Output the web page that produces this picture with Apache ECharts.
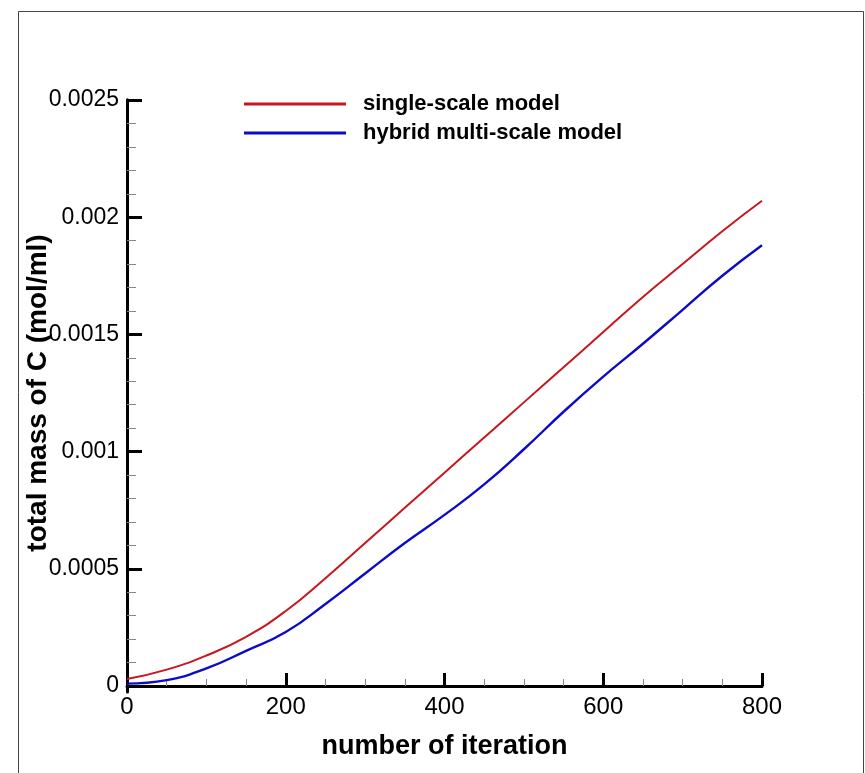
<!DOCTYPE html>
<html>
<head>
<meta charset="utf-8">
<script src="https://cdn.jsdelivr.net/npm/echarts@6/dist/echarts.min.js"></script>
<style>
  html, body { margin: 0; padding: 0; background: #fff; }
  #chart { width: 865px; height: 773px; }
</style>
</head>
<body>
<div id="chart"></div>
<script>
// iteration steps (x)
var iterations = [0, 50, 100, 150, 200, 250, 300, 350, 400, 450, 500, 550, 600, 650, 700, 750, 800];
// total mass of C
var singleScale = [0.00003, 0.00007, 0.00013, 0.00021, 0.00032, 0.00046, 0.00061, 0.00076, 0.00091,
                   0.00106, 0.00121, 0.00136, 0.00151, 0.00166, 0.00180, 0.00194, 0.00207];
var hybridScale = [0.00001, 0.000025, 0.000075, 0.00015, 0.00023, 0.00035, 0.00048, 0.00061, 0.00073,
                   0.00086, 0.00101, 0.00117, 0.00132, 0.00146, 0.001605, 0.00175, 0.00188];
var seriesNames = ['single-scale model', 'hybrid multi-scale model'];
var yTicks = [0, 0.0005, 0.001, 0.0015, 0.002, 0.0025];
var yTickLabels = ['0', '0.0005', '0.001', '0.0015', '0.002', '0.0025'];
var xTickLabels = ['0', '200', '400', '600', '800'];

var FONT = "'Liberation Sans', Arial, sans-serif";

function toPairs(xs, ys) {
    var out = [];
    for (var i = 0; i < xs.length; i++) {
        out.push([xs[i], ys[i]]);
    }
    return out;
}

var chart = echarts.init(document.getElementById('chart'));

var option = {
    animation: false,
    backgroundColor: '#fff',
    graphic: [{
        type: 'rect',
        shape: { x: 18.5, y: 11.5, width: 845, height: 800 },
        style: { fill: 'none', stroke: '#444', lineWidth: 1 },
        silent: true
    }],
    legend: {
        orient: 'vertical',
        left: 244,
        top: 93,
        padding: 0,
        itemWidth: 102,
        itemHeight: 3,
        itemGap: 7,
        icon: 'rect',
        data: seriesNames,
        textStyle: { fontFamily: FONT, fontSize: 22, fontWeight: 'bold', color: '#000', padding: [0, 0, 0, 12] }
    },
    grid: [
        // grid for labelled y axis: 0 .. 0.0025
        { left: 127, top: 100, width: 635, height: 586 },
        // grid for data and x axis (axis sits a bit below zero)
        { left: 127, top: 100, width: 635, height: 592 }
    ],
    xAxis: [
        { gridIndex: 0, type: 'value', min: 0, max: 800, show: false },
        {
            gridIndex: 1, type: 'value', min: 0, max: 800, interval: 200,
            name: 'number of iteration',
            nameLocation: 'middle',
            nameGap: 41,
            nameMoveOverlap: false,
            nameTextStyle: { fontFamily: FONT, fontSize: 27, fontWeight: 'bold', color: '#000' },
            axisLine: { show: true, lineStyle: { color: '#000', width: 3 } },
            axisTick: { show: true, inside: true, length: 13, lineStyle: { color: '#000', width: 3 } },
            minorTick: { show: true, splitNumber: 4, length: 7, lineStyle: { color: '#888', width: 1 } },
            splitLine: { show: false },
            axisLabel: {
                margin: 3, fontFamily: FONT, fontSize: 24, color: '#000',
                formatter: function (v) { return xTickLabels[Math.round(v / 200)]; }
            }
        }
    ],
    yAxis: [
        {
            gridIndex: 0, type: 'value', min: 0, max: 0.0025, interval: 0.0005,
            name: 'total mass of C (mol/ml)',
            nameLocation: 'middle',
            nameRotate: 90,
            nameGap: 75,
            nameMoveOverlap: false,
            nameTextStyle: { fontFamily: FONT, fontSize: 28, fontWeight: 'bold', color: '#000' },
            axisLine: { show: true, lineStyle: { color: '#000', width: 3 } },
            axisTick: { show: true, inside: true, length: 15, lineStyle: { color: '#000', width: 3 } },
            minorTick: { show: true, splitNumber: 5, length: 9, lineStyle: { color: '#888', width: 1 } },
            splitLine: { show: false },
            axisLabel: {
                margin: 8, fontFamily: FONT, fontSize: 23, color: '#000',
                formatter: function (v) {
                    for (var i = 0; i < yTicks.length; i++) {
                        if (Math.abs(yTicks[i] - v) < 1e-9) return yTickLabels[i];
                    }
                    return '';
                }
            }
        },
        {
            gridIndex: 1, type: 'value', min: -0.0000256, max: 0.0025,
            axisLine: { show: true, lineStyle: { color: '#000', width: 3 } },
            axisTick: { show: false },
            axisLabel: { show: false },
            splitLine: { show: false }
        }
    ],
    series: [
        {
            name: seriesNames[0],
            type: 'line',
            xAxisIndex: 1,
            yAxisIndex: 1,
            smooth: 0.5,
            symbol: 'none',
            color: '#c8161e',
            lineStyle: { color: '#c8161e', width: 2 },
            data: toPairs(iterations, singleScale)
        },
        {
            name: seriesNames[1],
            type: 'line',
            xAxisIndex: 1,
            yAxisIndex: 1,
            smooth: 0.5,
            symbol: 'none',
            color: '#0c0cc8',
            lineStyle: { color: '#0c0cc8', width: 2.4 },
            data: toPairs(iterations, hybridScale)
        }
    ]
};

chart.setOption(option);
</script>
</body>
</html>
